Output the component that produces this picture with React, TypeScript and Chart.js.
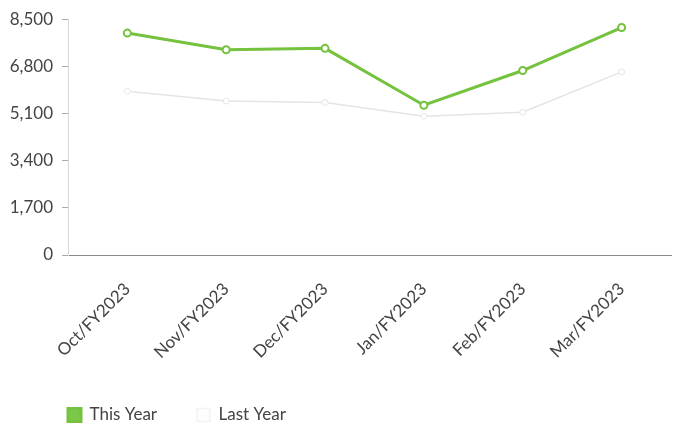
import React, { useEffect, useRef } from "react";
import { Chart, registerables } from "chart.js";

Chart.register(...registerables);

const categories = ["Oct/FY2023", "Nov/FY2023", "Dec/FY2023", "Jan/FY2023", "Feb/FY2023", "Mar/FY2023"];
const thisYear = [8000, 7400, 7450, 5400, 6650, 8200];
const lastYear = [5900, 5550, 5500, 5000, 5150, 6600];
const yTicks = [0, 1700, 3400, 5100, 6800, 8500];

const FONT = "Lato, 'Open Sans', sans-serif";
const FS = 17;

const legendShift = {
  id: "legendShift",
  afterLayout(chart: any) {
    const lg = chart.legend;
    if (!lg) return;
    const pad = lg.options.labels.padding;
    const w = lg.width;
    lg.left = 68 - pad;
    lg.right = lg.left + w;
    const h = lg.height;
    lg.top = 415 - pad - FS / 2;
    lg.bottom = lg.top + h;
  },
};

export default function App() {
  const ref = useRef<HTMLCanvasElement | null>(null);
  useEffect(() => {
    const ctx = ref.current!;
    const chart = new Chart(ctx, {
      type: "line",
      data: {
        datasets: [
          {
            label: "This Year",
            data: categories.map((_, i) => ({ x: i, y: thisYear[i] })),
            borderColor: "#74c23d",
            backgroundColor: "#7cc84a",
            borderWidth: 3,
            pointRadius: 3.5,
            pointBorderWidth: 2,
            pointBackgroundColor: "#ffffff",
            pointBorderColor: "#74c23d",
            tension: 0,
          },
          {
            label: "Last Year",
            data: categories.map((_, i) => ({ x: i, y: lastYear[i] })),
            borderColor: "#e4e4e4",
            backgroundColor: "#fdfdfd",
            borderWidth: 1.5,
            pointRadius: 3,
            pointBorderWidth: 1,
            pointBackgroundColor: "#ffffff",
            pointBorderColor: "#e6e6e6",
            tension: 0,
          },
        ],
      },
      options: {
        animation: false,
        responsive: true,
        maintainAspectRatio: false,
        layout: { padding: { left: 0, right: 5, top: 17, bottom: 0 } },
        plugins: {
          tooltip: { enabled: false },
          legend: {
            position: "bottom",
            align: "start",
            labels: {
              boxWidth: 13,
              boxHeight: 13,
              padding: 40,
              color: "#444",
              font: { family: FONT, size: FS },
              generateLabels: (c: any) => {
                const items = Chart.defaults.plugins.legend.labels.generateLabels(c);
                return items.map((it: any) =>
                  it.datasetIndex === 1 ? { ...it, strokeStyle: "#f3f3f3" } : it
                );
              },
            },
          },
        },
        scales: {
          x: {
            type: "linear",
            min: -0.6,
            max: 5.5,
            afterBuildTicks: (scale: any) => {
              scale.ticks = categories.map((_, i) => ({ value: i }));
            },
            afterFit: (scale: any) => {
              const lh = scale.chart.legend ? scale.chart.legend.height : 0;
              scale.height = scale.chart.height - 255 - lh;
            },
            grid: { display: false, drawTicks: false },
            border: { display: true, color: "#8a8a8a", width: 1, dash: [4, 2] },
            ticks: {
              padding: 24,
              minRotation: 45,
              maxRotation: 45,
              autoSkip: false,
              color: "#444",
              font: { family: FONT, size: FS },
              callback: (v: any) => categories[v as number] ?? "",
            },
          },
          y: {
            min: 0,
            max: 8500,
            afterBuildTicks: (scale: any) => {
              scale.ticks = yTicks.map((v) => ({ value: v }));
            },
            afterFit: (scale: any) => {
              scale.width = 68;
            },
            grid: { drawOnChartArea: false, tickLength: 6, tickColor: "#aaa" },
            border: { display: true, color: "#d8d8d8", width: 1, dash: [2, 3] },
            ticks: {
              padding: 9,
              color: "#444",
              font: { family: FONT, size: FS },
              callback: (v: any) => Number(v).toLocaleString("en-US"),
            },
          },
        },
      },
      plugins: [legendShift],
    });
    return () => chart.destroy();
  }, []);
  return (
    <div style={{ position: "fixed", left: 0, top: 0, width: 677, height: 425, background: "#fff" }}>
      <canvas ref={ref} />
    </div>
  );
}
